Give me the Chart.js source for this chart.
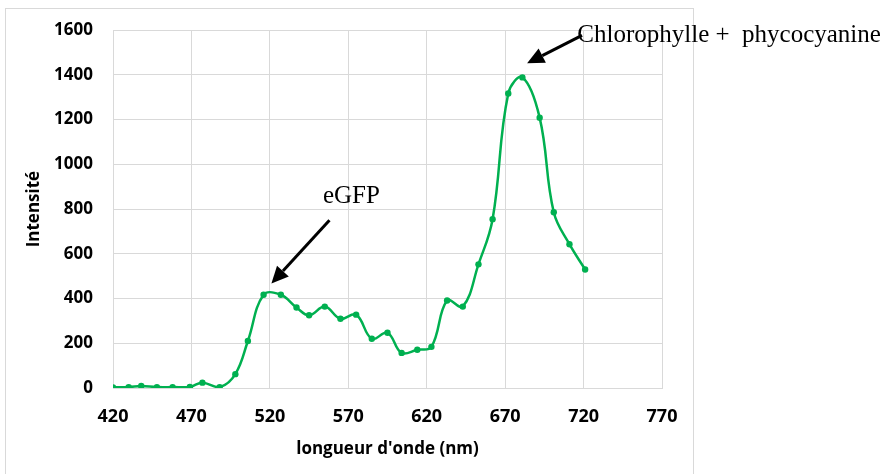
<!DOCTYPE html>
<html>
<head>
<meta charset="utf-8">
<script src="https://cdn.jsdelivr.net/npm/chart.js@4.4.1/dist/chart.umd.min.js"></script>
<style>
  html, body { margin:0; padding:0; background:#fff; width:883px; height:474px; overflow:hidden; }
  #frame { position:absolute; left:5px; top:8px; width:687px; height:480px; border:1px solid #d9d9d9; }
  #spectre { position:absolute; left:0; top:0; }
</style>
</head>
<body>
<div id="frame"></div>
<canvas id="spectre" width="883" height="474"></canvas>
<script>
// spectre d'émission : longueur d'onde (nm) / intensité
const wavelengths = [420, 430, 438, 448, 458, 469, 477, 488, 498, 506, 516, 527, 537, 545, 555, 565,
                     575, 585, 595, 604, 614, 623, 633, 643, 653, 662, 672, 681, 692, 701, 711, 721];
const intensities = [3, 4, 9, 4, 4, 5, 24, 4, 62, 210, 417, 417, 360, 325, 364, 310,
                     328, 220, 247, 157, 171, 184, 391, 364, 553, 755, 1317, 1389, 1209, 786, 643, 530];
const xTicks = [420, 470, 520, 570, 620, 670, 720, 770];
const yTicks = [0, 200, 400, 600, 800, 1000, 1200, 1400, 1600];

// flèches + étiquettes des pics (unités des axes)
const arrows = [
  { from: [558, 750], to: [521, 467] },
  { from: [719, 1577], to: [684, 1452] },
];
const peakLabels = [
  { text: 'eGFP', at: [572, 827], align: 'center' },
  { text: 'Chlorophylle +  phycocyanine', at: [716, 1546], align: 'left' },
];

const GREEN = '#00B050';
const GRID = '#d9d9d9';
const TICK_FONT = { family: "'Open Sans', sans-serif", weight: 'bold' };

const peakNotes = {
  id: 'peakNotes',
  afterDatasetsDraw(chart) {
    const { ctx, scales: { x, y } } = chart;
    ctx.save();
    ctx.strokeStyle = '#000';
    ctx.fillStyle = '#000';
    ctx.lineWidth = 3;
    arrows.forEach(a => {
      const x0 = x.getPixelForValue(a.from[0]), y0 = y.getPixelForValue(a.from[1]);
      const x1 = x.getPixelForValue(a.to[0]), y1 = y.getPixelForValue(a.to[1]);
      const ang = Math.atan2(y1 - y0, x1 - x0);
      const len = 17, half = 8;
      const bx = x1 - len * Math.cos(ang), by = y1 - len * Math.sin(ang);
      ctx.beginPath();
      ctx.moveTo(x0, y0);
      ctx.lineTo(bx, by);
      ctx.stroke();
      ctx.beginPath();
      ctx.moveTo(x1, y1);
      ctx.lineTo(bx + half * Math.sin(ang), by - half * Math.cos(ang));
      ctx.lineTo(bx - half * Math.sin(ang), by + half * Math.cos(ang));
      ctx.closePath();
      ctx.fill();
    });
    ctx.font = "25px 'Liberation Serif', 'Times New Roman', serif";
    ctx.textBaseline = 'alphabetic';
    peakLabels.forEach(l => {
      ctx.textAlign = l.align;
      ctx.fillText(l.text, x.getPixelForValue(l.at[0]), y.getPixelForValue(l.at[1]));
    });
    ctx.restore();
  }
};

new Chart(document.getElementById('spectre'), {
  type: 'line',
  data: {
    datasets: [{
      data: wavelengths.map((w, i) => ({ x: w, y: intensities[i] })),
      borderColor: GREEN,
      backgroundColor: GREEN,
      borderWidth: 2.5,
      pointRadius: 3.2,
      pointBorderWidth: 0,
      tension: 0.4,
      fill: false,
    }],
  },
  options: {
    responsive: false,
    animation: false,
    layout: { padding: { left: 24, top: 22, right: 221, bottom: 12 } },
    plugins: { legend: { display: false }, tooltip: { enabled: false } },
    scales: {
      x: {
        type: 'linear',
        min: 420, max: 770,
        afterBuildTicks: s => { s.ticks = xTicks.map(v => ({ value: v })); },
        afterFit: s => { s.height = 74; },
        grid: { color: GRID, drawTicks: false },
        border: { color: GRID },
        ticks: { color: '#000', padding: 18, font: { ...TICK_FONT, size: 18 }, callback: v => String(v) },
        title: {
          display: true, text: "longueur d'onde (nm)", color: '#000',
          padding: { top: 0, bottom: 3 }, font: { ...TICK_FONT, size: 17 },
        },
      },
      y: {
        min: 0, max: 1600,
        afterBuildTicks: s => { s.ticks = yTicks.map(v => ({ value: v })); },
        afterFit: s => { s.width = 89; },
        grid: { color: GRID, drawTicks: false },
        border: { color: GRID },
        ticks: { color: '#000', padding: 20, font: { ...TICK_FONT, size: 17 }, callback: v => String(v) },
        title: {
          display: true, text: 'Intensité', color: '#000',
          padding: { top: 0, bottom: 0 }, font: { ...TICK_FONT, size: 17 },
        },
      },
    },
  },
  plugins: [peakNotes],
});
</script>
</body>
</html>
